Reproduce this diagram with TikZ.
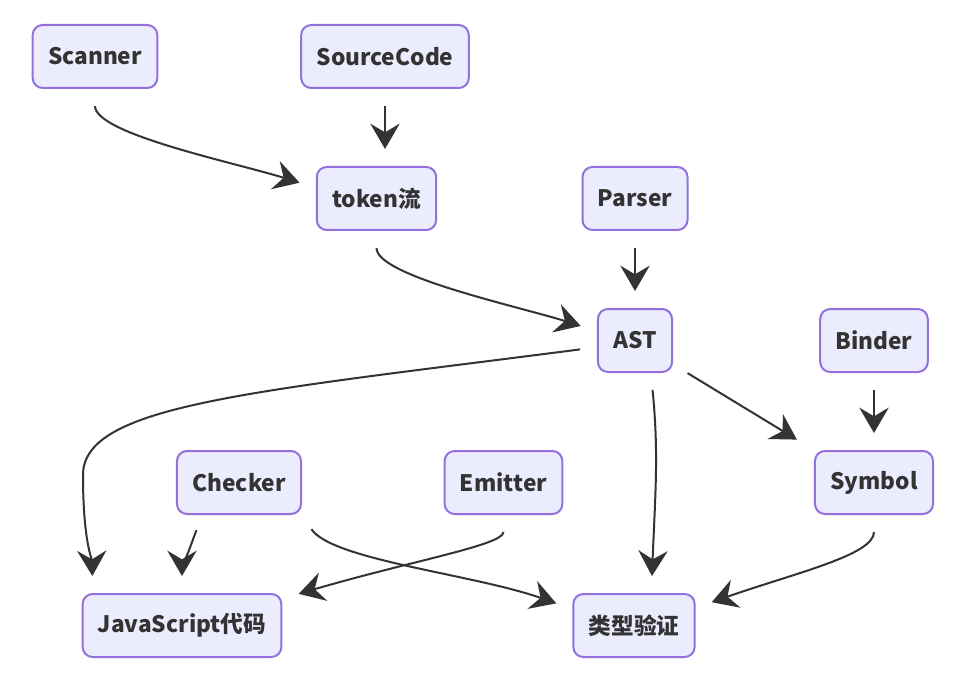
\documentclass[tikz,border=0pt]{standalone}
\usepackage{fontspec}
\setmainfont{Noto Sans CJK SC}
\usepackage{tikz}
\usetikzlibrary{arrows.meta}
\definecolor{boxfill}{HTML}{ECECFF}
\definecolor{boxline}{HTML}{9370DB}
\definecolor{ink}{HTML}{333333}
\tikzstyle{box} = [draw=boxline, fill=boxfill, line width=1.5pt, rounded corners=7.5pt, minimum height=47.25pt, inner xsep=11.5pt, text=ink, font=\fontsize{17pt}{20pt}\selectfont\bfseries]
\tikzstyle{line} = [draw=ink, line width=1.5pt, -{Stealth[length=19pt,width=22pt,inset=6.5pt]}, shorten <=12.75pt, shorten >=12.75pt]

\begin{document}
\begin{tikzpicture}[x=0.75pt, y=-0.75pt]
            \useasboundingbox (0,0) rectangle (961,681);

            \node[box] (scan) at (95,56.5) {Scanner};
            \node[box] (src) at (385,56.5) {SourceCode};
            \node[box] (tok) at (376.5,198.5) {token流};
            \node[box] (par) at (635,198.5) {Parser};
            \node[box] (ast) at (635,340.5) {AST};
            \node[box] (bind) at (874,340.5) {Binder};
            \node[box] (chk) at (239,482.5) {Checker};
            \node[box] (em) at (503.5,482.5) {Emitter};
            \node[box] (sym) at (874,482.5) {Symbol};
            \node[box] (js) at (182,625.5) {JavaScript代码};
            \node[box] (type) at (634,625.5) {类型验证};

            \draw[line] (scan.south) .. controls +(0,45) and +(-80,-25) .. (tok.170);
            \draw[line] (src.south) -- (src.south |- tok.north);
            \draw[line] (tok.south) .. controls +(0,45) and +(-80,-25) .. (ast.166);
            \draw[line] (par.south) -- (ast.north);
            \draw[line] (ast.190) .. controls (250,392) and (83,405) .. (83,475) .. controls (83,540) and (92,560) .. (js.160);
            \draw[line] (ast.-64) .. controls +(8,80) and +(4,-100) .. (type.62);
            \draw[line, shorten >=15pt] (ast.-32) -- (sym.north west);
            \draw[line] (bind.south) -- (sym.north);
            \draw[line] (chk.223) .. controls +(-10,20) and +(0,-20) .. (js.north);
            \draw[line] (chk.south east) .. controls +(30,45) and +(-100,-35) .. (type.165);
            \draw[line] (em.south) .. controls +(0,30) and +(130,-38) .. (js.15);
            \draw[line] (sym.south) .. controls +(0,40) and +(100,-35) .. (type.16);
          \end{tikzpicture}
\end{document}
